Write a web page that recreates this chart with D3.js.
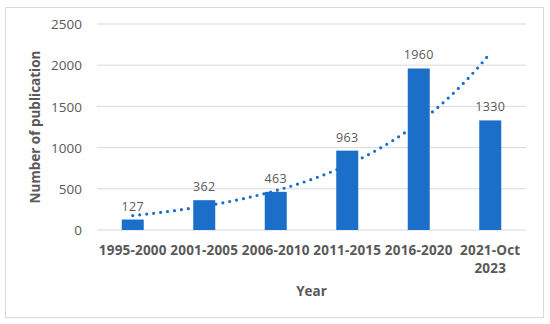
<html>
<head>
    <meta charset="utf-8">
    <title>Number of publication by year</title>
    <style type="text/css">
        body { margin: 0; background: #fff; }
        .bar { stroke: none; fill: #1b6fc8; }
        .tick line { stroke: none; }
        .domain { stroke: none; }
        text { font-family: "Open Sans", sans-serif; }
    </style>
</head>
<body>
<script src="https://d3js.org/d3.v7.min.js"></script>
<script>
// data
var years  = ["1995-2000", "2001-2005", "2006-2010", "2011-2015", "2016-2020", "2021-Oct 2023"];
var counts = [127, 362, 463, 963, 1960, 1330];
var yTicks = [0, 500, 1000, 1500, 2000, 2500];

var W = 550, H = 324;
var margin = {top: 24, right: 24, bottom: 94, left: 97},
    width  = W - margin.left - margin.right,
    height = H - margin.top - margin.bottom;

var svg = d3.select("body")
    .append("svg")
    .attr("width", W)
    .attr("height", H);

// outer chart border
svg.append("rect")
    .attr("x", 5.5).attr("y", 7.5)
    .attr("width", 538).attr("height", 310)
    .attr("fill", "#fff")
    .attr("stroke", "#d9d9d9")
    .attr("stroke-width", 1);

var chart = svg.append("g")
    .attr("transform", "translate(" + margin.left + "," + margin.top + ")");

var yScale = d3.scaleLinear()
    .domain([0, 2500])
    .range([height, 0]);

var xScale = d3.scaleBand()
    .domain(years)
    .range([0, width])
    .padding(0);

// gridlines
chart.selectAll(".grid")
    .data(yTicks)
    .enter()
    .append("line")
    .attr("x1", 0).attr("x2", width)
    .attr("y1", function(d){ return yScale(d); })
    .attr("y2", function(d){ return yScale(d); })
    .attr("stroke", "#d9d9d9")
    .attr("stroke-width", 1);

var barW = 22;
chart.selectAll(".bar")
    .data(counts)
    .enter()
    .append("rect")
    .attr("class", "bar")
    .attr("x", function(d, i){ return xScale(years[i]) + xScale.bandwidth()/2 - barW/2; })
    .attr("y", function(d){ return yScale(d); })
    .attr("width", barW)
    .attr("height", function(d){ return height - yScale(d); });

// data labels
chart.selectAll(".lbl")
    .data(counts)
    .enter()
    .append("text")
    .attr("x", function(d, i){ return xScale(years[i]) + xScale.bandwidth()/2; })
    .attr("y", function(d){ return yScale(d) - 9; })
    .attr("text-anchor", "middle")
    .style("font-size", "12.5px")
    .style("letter-spacing", "0.3px")
    .style("fill", "#595959")
    .text(function(d){ return d; });

// exponential trendline (least squares on ln y, like Excel)
var xs = counts.map(function(d, i){ return i + 1; });
var ly = counts.map(function(d){ return Math.log(d); });
var mx = d3.mean(xs), my = d3.mean(ly);
var b = d3.sum(xs, function(x, i){ return (x - mx) * (ly[i] - my); }) /
        d3.sum(xs, function(x){ return (x - mx) * (x - mx); });
var a = Math.exp(my - b * mx);

var trendPts = d3.range(0, 5.001, 0.05);
var trendLine = d3.line()
    .x(function(t){ return xScale(years[0]) + xScale.bandwidth()/2 + t * xScale.step(); })
    .y(function(t){ return yScale(a * Math.exp(b * (t + 1))); });

chart.append("path")
    .datum(trendPts)
    .attr("d", trendLine)
    .attr("fill", "none")
    .attr("stroke", "#1b6fc8")
    .attr("stroke-width", 3.2)
    .attr("stroke-linecap", "round")
    .attr("stroke-dasharray", "0 7");

// y axis
var yAxis = chart.append("g")
    .call(d3.axisLeft(yScale).tickValues(yTicks).tickFormat(d3.format("d")).tickSize(0).tickPadding(15));
yAxis.selectAll("text")
    .style("font-size", "13.5px")
    .style("fill", "#595959")
    .attr("dy", "0.35em");

// x axis
var xAxis = chart.append("g")
    .attr("transform", "translate(0," + height + ")")
    .call(d3.axisBottom(xScale).tickSize(0).tickPadding(0));
xAxis.selectAll("text").remove();
xAxis.selectAll(".tick").each(function(d){
    var t = d3.select(this).append("text")
        .attr("text-anchor", "middle")
        .style("font-size", "13.5px")
        .style("font-weight", "bold")
        .style("letter-spacing", "0.2px")
        .style("fill", "#595959");
    var parts = d === "2021-Oct 2023" ? ["2021-Oct", "2023"] : [d];
    parts.forEach(function(p, k){
        t.append("tspan")
            .attr("x", 0)
            .attr("y", 24.5 + k * 18.5)
            .text(p);
    });
});

// axis titles
svg.append("text")
    .attr("transform", "translate(40," + (margin.top + height/2) + ") rotate(-90)")
    .attr("text-anchor", "middle")
    .style("font-size", "13.5px")
    .style("font-weight", "bold")
    .style("fill", "#595959")
    .text("Number of publication");

svg.append("text")
    .attr("x", margin.left + width/2)
    .attr("y", 296)
    .attr("text-anchor", "middle")
    .style("font-size", "13.5px")
    .style("font-weight", "bold")
    .style("fill", "#595959")
    .text("Year");
</script>
</body>
</html>
